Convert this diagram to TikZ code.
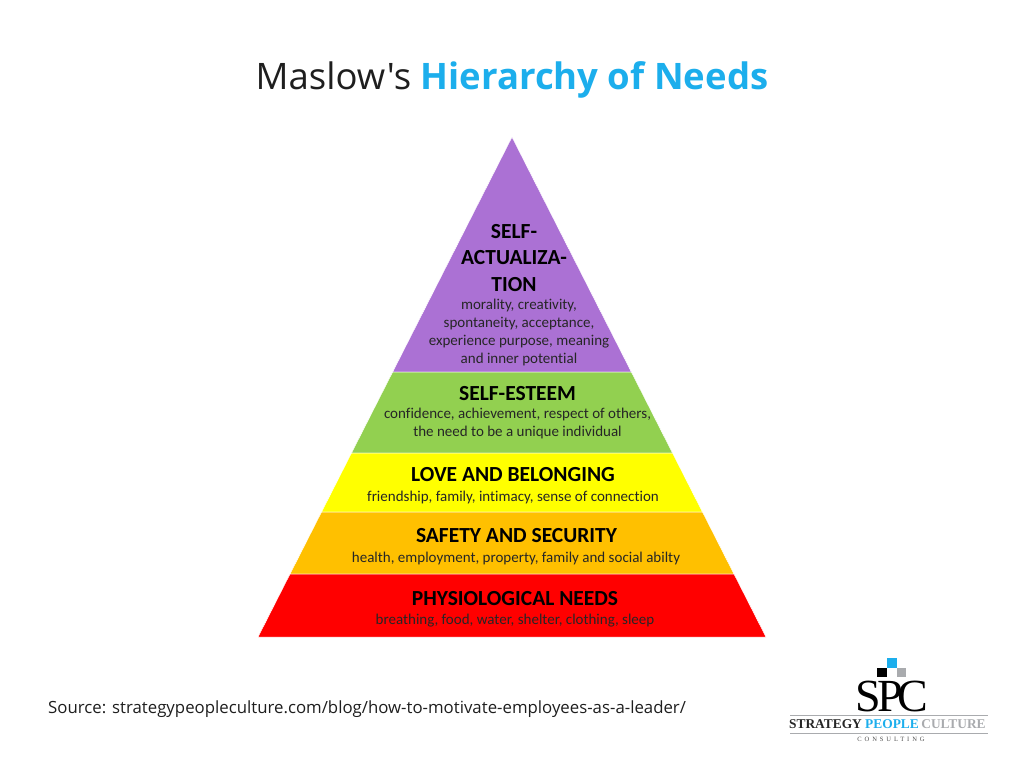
\documentclass[tikz,border=0pt]{standalone}
\usepackage{fontspec}
\setmainfont[Ligatures=NoCommon]{Carlito}
\newfontfamily\titlefont{Open Sans}
\newfontfamily\logofont{Liberation Serif}
\newfontfamily\logospaced[LetterSpace=45]{Liberation Serif}
\definecolor{skyblue}{HTML}{1CAEEC}
\definecolor{titleblack}{HTML}{1E1E1E}
\definecolor{actualcol}{HTML}{AB71D4}
\definecolor{esteemcol}{HTML}{92D050}
\definecolor{lovecol}{HTML}{FFFF00}
\definecolor{safetycol}{HTML}{FFC000}
\definecolor{physiocol}{HTML}{FF0000}
\definecolor{logogrey}{HTML}{A9ABAE}
\tikzset{
    band/.style={draw=white,line width=0.5pt},
    head/.style={font=\bfseries\fontsize{21.5}{26.5}\selectfont,text=black,align=center,inner sep=0pt},
    sub/.style={font=\fontsize{15}{18}\selectfont,text=black!85,align=center,inner sep=0pt},
    logoletter/.style={font=\logofont\fontsize{46}{46}\selectfont,text=black,inner sep=0pt},
    logoword/.style={font=\logofont\bfseries\fontsize{13.4}{14}\selectfont,inner sep=0pt}
}
\begin{document}
\begin{tikzpicture}[x=1pt,y=-1pt]
    \useasboundingbox (0,0) rectangle (1024,768);
    %% title
    \node[font=\titlefont\fontsize{36.5}{42}\selectfont,text=titleblack,inner sep=0pt] (title) at (512,80)
        {Maslow's {\bfseries\color{skyblue}Hierarchy of Needs}};
    %% pyramid bands
    \foreach \a/\b/\c in {137/372/actualcol,372/453/esteemcol,453/512/lovecol,512/574/safetycol,574/637/physiocol}
        \fill[band,fill=\c] ({512-(\a-137)*0.508},\a) -- ({512+(\a-137)*0.508},\a)
            -- ({512+(\b-137)*0.508},\b) -- ({512-(\b-137)*0.508},\b) -- cycle;
    %% top band
    \node[head] (actual) at (514,258) {SELF-\\ACTUALIZA-\\TION};
    \node[sub] (actualsub) at (519,332) {morality, creativity,\\spontaneity, acceptance,\\experience purpose, meaning\\and inner potential};
    %% the other bands
    \node[head] (esteem) at (517.5,394) {SELF-ESTEEM};
    \node[sub] (esteemsub) at (517.5,423.5) {confidence, achievement, respect of others,\\the need to be a unique individual};
    \node[head] (love) at (513,475) {LOVE AND BELONGING};
    \node[sub] (lovesub) at (513,497) {friendship, family, intimacy, sense of connection};
    \node[head] (safety) at (516.5,536) {SAFETY AND SECURITY};
    \node[sub] (safetysub) at (516,558) {health, employment, property, family and social abilty};
    \node[head] (physio) at (515,599) {PHYSIOLOGICAL NEEDS};
    \node[sub] (physiosub) at (515,621) {breathing, food, water, shelter, clothing, sleep};
    %% source line
    \node[anchor=west,font=\titlefont\fontsize{16.8}{19}\selectfont,text=titleblack,inner sep=0pt] (source) at (48,709)
        {Source: strategypeopleculture.com/blog/how-to-motivate-employees-as-a-leader/};
    %% logo
    \fill[skyblue] (887,658) rectangle (897,667.5);
    \fill[black] (877,668) rectangle (887,677);
    \fill[logogrey] (897,668) rectangle (906,677);
    \node[logoletter] (logos) at (868,696) {S};
    \node[logoletter] (logop) at (890,696) {P};
    \node[logoletter] (logoc) at (912.5,696) {C};
    \draw[logogrey,line width=1pt] (790,715) -- (988,715);
    \draw[logogrey,line width=1pt] (790,733) -- (988,733);
    \node[logoword,text=black!85] (logostrategy) at (825.5,724) {STRATEGY};
    \node[logoword,text=skyblue] (logopeople) at (892,724) {PEOPLE};
    \node[logoword,text=logogrey] (logoculture) at (953.5,724) {CULTURE};
    \node[font=\logospaced\fontsize{6.5}{7}\selectfont,text=black!70,inner sep=0pt] (logoconsulting) at (891,739) {CONSULTING};
\end{tikzpicture}
\end{document}
